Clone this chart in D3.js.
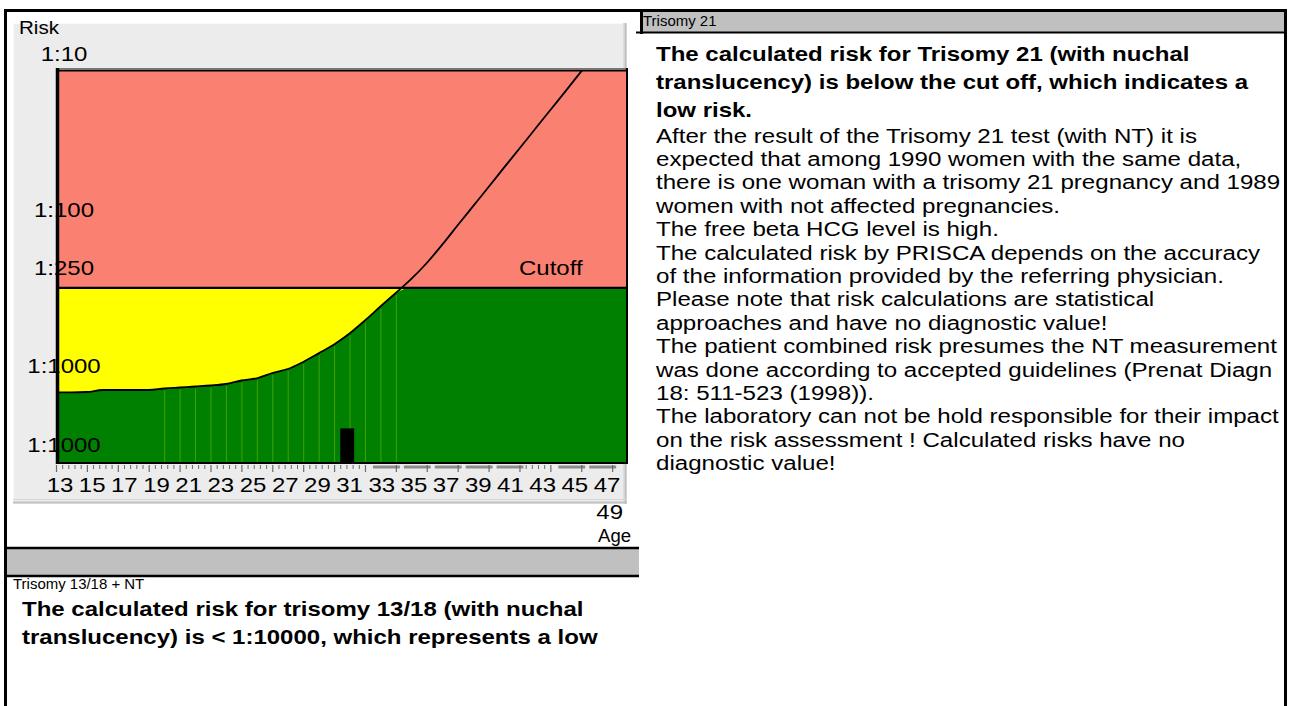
<!DOCTYPE html>
<html><head><meta charset="utf-8">
<script src="https://cdn.jsdelivr.net/npm/d3@7"></script>
<style>
html,body{margin:0;padding:0;background:#fff;}
svg{display:block;font-family:"Liberation Sans",Arial,Helvetica,sans-serif;}
</style></head><body>
<svg id="c" width="1290" height="706"></svg>
<script>
// ---------------- data ----------------
const ages = [13,14,15,16,17,18,19,20,21,22,23,24,25,26,27,28,29,30,31,32,33,34,35,36,37,38,39,40,41,42,43,44,45,46,47,48];
const riskDenominators = [1168,1168,1163,1129,1129,1129,1129,1104,1088,1072,1056,1033,981,950,878,828,746,657,576,490,404,329,269,219,173,132,99.1,74.7,56.3,42.3,31.9,24.0,18.05,13.6,10.2,7.7];
const cutoffRisk = 250;
const patientAge = 31.85;
const patientRisk = 1990;
const yTickValues = [10, 100, 250, 1000, 3200];
const yTickLabels = ["1:10", "1:100", "1:250", "1:1000", "1:1000"];
const xTickLabels = ["13","15","17","19","21","23","25","27","29","31","33","35","37","39","41","43","45","47"];
const xOverflowLabel = "49";
const separatorAges = [20,21,22,23,24,25,26,27,28,29,30,31,32,33,34,35];
const rightTitle = "Trisomy 21";
const rightBold = [
  "The calculated risk for Trisomy 21 (with nuchal",
  "translucency) is below the cut off, which indicates a",
  "low risk."
];
const rightBody = [
  "After the result of the Trisomy 21 test (with NT) it is",
  "expected that among 1990 women with the same data,",
  "there is one woman with a trisomy 21 pregnancy and 1989",
  "women with not affected pregnancies.",
  "The free beta HCG level is high.",
  "The calculated risk by PRISCA depends on the accuracy",
  "of the information provided by the referring physician.",
  "Please note that risk calculations are statistical",
  "approaches and have no diagnostic value!",
  "The patient combined risk presumes the NT measurement",
  "was done according to accepted guidelines (Prenat Diagn",
  "18: 511-523 (1998)).",
  "The laboratory can not be hold responsible for their impact",
  "on the risk assessment ! Calculated risks have no",
  "diagnostic value!"
];
const leftTitle = "Trisomy 13/18 + NT";
const leftBold = [
  "The calculated risk for trisomy 13/18 (with nuchal",
  "translucency) is < 1:10000, which represents a low"
];

// ---------------- layout ----------------
const SX = 1.143;   // the source rendering is stretched horizontally
const svg = d3.select("#c");
const P = {left: 57, right: 627, top: 70, bottom: 463};
const x = d3.scaleLinear().domain([13, 50]).range([56, 627.6]);
const y = d3.scaleLog().domain([10, 3318]).range([P.top, P.bottom]);
const xLab = d3.scalePoint().domain(xTickLabels).range([60, 607]);
const data = ages.map((a, i) => ({age: a, risk: riskDenominators[i]}));

function txt(parent, tx, ty, str, size, opts = {}) {
  const t = parent.append("text")
    .attr("transform", `translate(${tx},${ty}) scale(${opts.sx || SX},1)`)
    .attr("font-size", size).attr("fill", "#000").text(str);
  if (opts.anchor) t.attr("text-anchor", opts.anchor);
  if (opts.bold) t.attr("font-weight", "bold");
  return t;
}

svg.append("rect").attr("width", 1290).attr("height", 706).attr("fill", "#fff");

// chart panel background
svg.append("rect").attr("x", 13).attr("y", 23).attr("width", 614).attr("height", 481).attr("fill", "#ececec");
svg.append("line").attr("x1", 13).attr("x2", 627).attr("y1", 23.5).attr("y2", 23.5).attr("stroke", "#f9f9f9");
svg.append("line").attr("x1", 13.5).attr("x2", 13.5).attr("y1", 23).attr("y2", 504).attr("stroke", "#f9f9f9");
svg.append("line").attr("x1", 623.5).attr("x2", 623.5).attr("y1", 23).attr("y2", 503).attr("stroke", "#dcdcdc");
svg.append("line").attr("x1", 625.5).attr("x2", 625.5).attr("y1", 23).attr("y2", 504).attr("stroke", "#bdbdbd").attr("stroke-width", 2);
svg.append("line").attr("x1", 13).attr("x2", 627).attr("y1", 499.5).attr("y2", 499.5).attr("stroke", "#d6d6d6");
svg.append("line").attr("x1", 13).attr("x2", 627).attr("y1", 502.5).attr("y2", 502.5).attr("stroke", "#c2c2c2").attr("stroke-width", 2);

// clip
svg.append("defs").append("clipPath").attr("id", "plotclip")
  .append("rect").attr("x", P.left).attr("y", P.top).attr("width", P.right - P.left).attr("height", P.bottom - P.top);
const g = svg.append("g").attr("clip-path", "url(#plotclip)");

// zones
g.append("rect").attr("x", P.left).attr("y", y(10)).attr("width", P.right - P.left).attr("height", y(cutoffRisk) - y(10)).attr("fill", "#fa8072");
g.append("rect").attr("x", P.left).attr("y", y(cutoffRisk)).attr("width", P.right - P.left).attr("height", P.bottom - y(cutoffRisk)).attr("fill", "#ffff00");

// green area under the curve (clamped at cut-off)
const greenArea = d3.area()
  .x(d => x(d.age)).y0(P.bottom).y1(d => y(Math.max(d.risk, cutoffRisk)))
  .curve(d3.curveMonotoneX);
g.append("path").datum(data).attr("d", greenArea).attr("fill", "#008000");
g.append("rect").attr("x", x(36)).attr("y", y(cutoffRisk))
  .attr("width", P.right - x(36) + 2).attr("height", P.bottom - y(cutoffRisk)).attr("fill", "#008000");

// light separators
const riskAt = a => data.find(d => d.age === a).risk;
g.selectAll("line.sep").data(separatorAges).join("line").attr("class", "sep")
  .attr("x1", d => x(d) + 0.5).attr("x2", d => x(d) + 0.5)
  .attr("y1", d => y(Math.max(riskAt(d), cutoffRisk)) + 2).attr("y2", P.bottom)
  .attr("stroke", "#43a000").attr("stroke-width", 1);

// patient marker
g.append("rect").attr("x", x(patientAge - 0.45)).attr("y", y(patientRisk))
  .attr("width", x(patientAge + 0.45) - x(patientAge - 0.45)).attr("height", P.bottom - y(patientRisk)).attr("fill", "#000");

// risk curve
const line = d3.line().x(d => x(d.age)).y(d => y(d.risk)).curve(d3.curveMonotoneX);
g.append("path").datum(data).attr("d", line).attr("fill", "none").attr("stroke", "#000").attr("stroke-width", 1.8);

// cut-off line
svg.append("line").attr("x1", P.left).attr("x2", P.right).attr("y1", y(cutoffRisk)).attr("y2", y(cutoffRisk))
  .attr("stroke", "#000").attr("stroke-width", 2.2);

// y labels (drawn before the frame so the left border crosses them)
yTickValues.forEach((v, i) => txt(svg, 64, y(v) - (v === cutoffRisk ? 13 : 9), yTickLabels[i], 21, {anchor: "middle"}));
txt(svg, 519, y(cutoffRisk) - 12.5, "Cutoff", 21);

// plot frame
svg.append("line").attr("x1", P.left).attr("x2", P.right + 1).attr("y1", 68.5).attr("y2", 68.5).attr("stroke", "#777").attr("stroke-width", 1);
svg.append("line").attr("x1", P.left).attr("x2", P.right + 1).attr("y1", 70.5).attr("y2", 70.5).attr("stroke", "#000").attr("stroke-width", 2);
svg.append("line").attr("x1", 57.5).attr("x2", 57.5).attr("y1", 68).attr("y2", P.bottom + 1).attr("stroke", "#000").attr("stroke-width", 3.5);
svg.append("line").attr("x1", P.right).attr("x2", P.right).attr("y1", 68).attr("y2", P.bottom + 1).attr("stroke", "#000").attr("stroke-width", 2);
svg.append("line").attr("x1", P.left).attr("x2", P.right + 1).attr("y1", P.bottom).attr("y2", P.bottom).attr("stroke", "#000").attr("stroke-width", 2);

// x axis ticks
const majors = d3.range(13, 50, 2);
const barStarts = [33, 35, 37, 39, 41, 45, 47];
const ax = svg.append("g");
majors.forEach(a => {
  ax.append("line").attr("x1", x(a) + 0.5).attr("x2", x(a) + 0.5).attr("y1", 465).attr("y2", 472).attr("stroke", "#6a6a6a").attr("stroke-width", 1.2);
  if (a >= 49) return;
  if (barStarts.includes(a)) {
    ax.append("rect").attr("x", x(a) + 8).attr("y", 465.5).attr("width", x(a + 2) - x(a) - 4).attr("height", 3).attr("fill", "#8c8c8c");
  } else {
    [0.4, 0.8, 1.2, 1.6].forEach(s => {
      ax.append("line").attr("x1", x(a + s) + 0.5).attr("x2", x(a + s) + 0.5).attr("y1", 465).attr("y2", 469).attr("stroke", "#6a6a6a").attr("stroke-width", 1);
    });
  }
});

// x labels
xTickLabels.forEach(l => txt(svg, xLab(l), 491.5, l, 21, {anchor: "middle"}));
txt(svg, 623, 518.5, xOverflowLabel, 21, {anchor: "end"});
txt(svg, 631, 541.5, "Age", 18, {anchor: "end", sx: 1.03});
txt(svg, 19, 34, "Risk", 18);

// ---------------- page frame & text panels ----------------
// right header
svg.append("rect").attr("x", 642).attr("y", 11).attr("width", 643).attr("height", 21).attr("fill", "#c0c0c0");
txt(svg, 643, 26, rightTitle, 14, {sx: 1.07});
svg.append("line").attr("x1", 636).attr("x2", 1287).attr("y1", 32.5).attr("y2", 32.5).attr("stroke", "#000").attr("stroke-width", 2);
svg.append("line").attr("x1", 641.5).attr("x2", 641.5).attr("y1", 9).attr("y2", 34).attr("stroke", "#000").attr("stroke-width", 3);

// right text
rightBold.forEach((s, i) => txt(svg, 656, 60.5 + i * 28, s, 21, {bold: true}));
rightBody.forEach((s, i) => txt(svg, 656, 142.5 + i * 23.4, s, 21, {sx: 1.148}));

// bottom-left band
txt(svg, 13, 588.5, leftTitle, 14, {sx: 1.07});
svg.append("rect").attr("x", 5).attr("y", 549).attr("width", 634).attr("height", 26).attr("fill", "#c0c0c0");
svg.append("line").attr("x1", 4).attr("x2", 639).attr("y1", 548).attr("y2", 548).attr("stroke", "#000").attr("stroke-width", 2.5);
svg.append("line").attr("x1", 4).attr("x2", 639).attr("y1", 576).attr("y2", 576).attr("stroke", "#000").attr("stroke-width", 2.5);
leftBold.forEach((s, i) => txt(svg, 22, 615.5 + i * 28, s, 21, {bold: true}));

// outer frame
svg.append("line").attr("x1", 4).attr("x2", 1287).attr("y1", 10.5).attr("y2", 10.5).attr("stroke", "#000").attr("stroke-width", 3);
svg.append("line").attr("x1", 5.5).attr("x2", 5.5).attr("y1", 9).attr("y2", 706).attr("stroke", "#000").attr("stroke-width", 3);
svg.append("line").attr("x1", 1285.5).attr("x2", 1285.5).attr("y1", 9).attr("y2", 706).attr("stroke", "#000").attr("stroke-width", 3);
</script>
</body></html>
